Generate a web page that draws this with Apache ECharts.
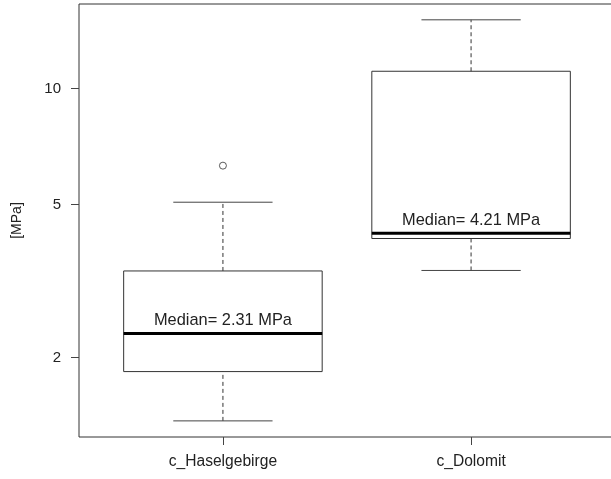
<!DOCTYPE html>
<html>
<head>
<meta charset="utf-8">
<script src="https://cdn.jsdelivr.net/npm/echarts@6/dist/echarts.min.js"></script>
<style>
  html, body { margin: 0; padding: 0; background: #fff; overflow: hidden; }
  /* the original plot frame runs past the right edge of the picture */
  #chart { width: 620px; height: 479px; }
</style>
</head>
<body>
<div id="chart"></div>
<script>
// box statistics per group (MPa)
const categories = ["c_Haselgebirge", "c_Dolomit"];
const lowerWhisker = [1.37, 3.37];
const q1 = [1.84, 4.08];
const medians = [2.31, 4.21];
const q3 = [3.36, 11.1];
const upperWhisker = [5.07, 15.1];
const outliers = [[1, 6.31]];
const yTicks = [2, 5, 10];

const FONT = "'Liberation Sans', Arial, sans-serif";
const positions = categories.map((c, i) => i + 1);

const boxData = categories.map((c, i) => [
  positions[i], lowerWhisker[i], q1[i], medians[i], q3[i], upperWhisker[i]
]);

function renderBox(params, api) {
  const x = api.value(0);
  const p = (dx, v) => api.coord([x + dx, v]);
  const lo = api.value(1), b = api.value(2), m = api.value(3), t = api.value(4), hi = api.value(5);
  const boxL = p(-0.4, b), boxR = p(0.4, t);
  const dash = { stroke: "#333", lineWidth: 1, lineDash: [4, 3] };
  const solid = { stroke: "#444", lineWidth: 1 };
  const mL = p(-0.4, m), mR = p(0.4, m);
  return {
    type: "group",
    children: [
      { type: "line", shape: { x1: p(0, lo)[0], y1: p(0, lo)[1], x2: p(0, b)[0], y2: p(0, b)[1] }, style: dash },
      { type: "line", shape: { x1: p(0, t)[0], y1: p(0, t)[1], x2: p(0, hi)[0], y2: p(0, hi)[1] }, style: dash },
      { type: "line", shape: { x1: p(-0.2, lo)[0], y1: p(0, lo)[1], x2: p(0.2, lo)[0], y2: p(0, lo)[1] }, style: solid },
      { type: "line", shape: { x1: p(-0.2, hi)[0], y1: p(0, hi)[1], x2: p(0.2, hi)[0], y2: p(0, hi)[1] }, style: solid },
      {
        type: "rect",
        shape: { x: boxL[0], y: boxR[1], width: boxR[0] - boxL[0], height: boxL[1] - boxR[1] },
        style: { fill: "none", stroke: "#333", lineWidth: 1 }
      },
      { type: "line", shape: { x1: mL[0], y1: mL[1], x2: mR[0], y2: mR[1] }, style: { stroke: "#000", lineWidth: 3 } },
      {
        type: "text",
        x: p(0, m)[0],
        y: p(0, m)[1] - 5,
        style: {
          text: "Median= " + m.toFixed(2) + " MPa",
          fill: "#222",
          font: "16.4px " + FONT,
          align: "center",
          verticalAlign: "bottom"
        }
      }
    ]
  };
}

const chart = echarts.init(document.getElementById("chart"));
chart.setOption({
  animation: false,
  grid: {
    show: true,
    left: 79,
    top: 4,
    right: 5,
    bottom: 42,
    borderColor: "#333",
    borderWidth: 1,
    backgroundColor: "transparent"
  },
  xAxis: {
    type: "value",
    min: 0.42,
    max: 2.58,
    axisLine: { show: false },
    splitLine: { show: false },
    axisTick: { show: true, length: 8, customValues: positions, lineStyle: { color: "#444" } },
    axisLabel: {
      customValues: positions,
      margin: 17,
      fontSize: 15.6,
      fontFamily: FONT,
      color: "#222",
      formatter: (v) => categories[Math.round(v) - 1]
    }
  },
  yAxis: {
    type: "log",
    logBase: 10,
    min: 1.244,
    max: 16.6,
    name: "[MPa]",
    nameLocation: "middle",
    nameRotate: 90,
    nameGap: 55,
    nameTextStyle: { fontSize: 14, fontFamily: FONT, color: "#222" },
    axisLine: { show: false },
    splitLine: { show: false },
    axisTick: { show: true, length: 8, customValues: yTicks, lineStyle: { color: "#444" } },
    axisLabel: {
      customValues: yTicks,
      margin: 18,
      fontSize: 15,
      fontFamily: FONT,
      color: "#222"
    }
  },
  series: [
    {
      type: "custom",
      renderItem: renderBox,
      data: boxData,
      encode: { x: 0, y: [1, 2, 3, 4, 5] }
    },
    {
      type: "scatter",
      data: outliers,
      symbol: "circle",
      symbolSize: 7,
      itemStyle: { color: "#fff", borderColor: "#333", borderWidth: 1 }
    }
  ]
});
</script>
</body>
</html>
